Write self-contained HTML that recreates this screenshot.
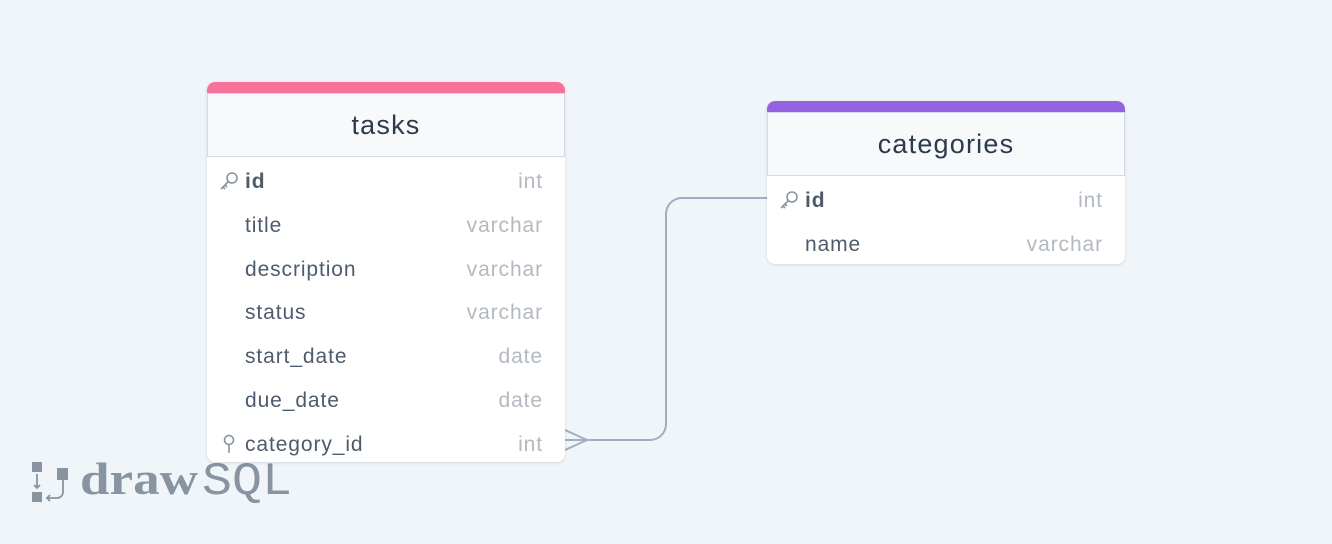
<!DOCTYPE html>
<html><head><style>
body{margin:0;width:1332px;height:544px;background:#f0f5f9;position:relative;overflow:hidden;font-family:"Liberation Sans",sans-serif;}
.logo{position:absolute;left:30px;top:456px;height:50px;}
.tbl{position:absolute;width:358px;background:#fff;border-radius:8px;box-shadow:0 1px 3px rgba(0,0,0,.12);}
.bar{height:11px;border-radius:8px 8px 0 0;}
.hd{height:62px;background:#f7f9fb;border:1px solid #d3dce6;display:flex;align-items:center;justify-content:center;font-size:27px;letter-spacing:1.2px;color:#2d3a4b;}
.row{height:43.8px;position:relative;font-size:21px;letter-spacing:0.9px;color:#4e5b6b;}
.row .n{position:absolute;left:38px;top:13px;}
.row .t{position:absolute;right:22px;top:13px;color:#b3b9c0;}
.row svg{position:absolute;left:12px;top:14px;}
b{color:#4e5b6b}
</style></head><body>
<svg class="logo" width="270" height="50">
<rect x="2" y="6" width="10" height="10" fill="#8894a0"/>
<rect x="2" y="36" width="10" height="10" fill="#8894a0"/>
<rect x="27" y="12" width="11" height="12" fill="#8894a0"/>
<path d="M7 18v14M4 29l3 3 3-3M33 24v12a6 6 0 0 1-6 6h-10M20 39l-3 3 3 3" stroke="#8894a0" stroke-width="1.8" fill="none"/>
<text x="50" y="38" font-family="Liberation Serif,serif" font-weight="bold" font-size="46" fill="#8894a0" textLength="118" lengthAdjust="spacingAndGlyphs">draw</text>
<text x="172" y="38" font-family="Liberation Mono,monospace" font-size="46" fill="#8894a0" textLength="90" lengthAdjust="spacingAndGlyphs">SQL</text>
</svg>
<svg style="position:absolute;left:0;top:0" width="1332" height="544">
<path d="M565 440H650a16 16 0 0 0 16-16V214a16 16 0 0 1 16-16H767M565 430L587 440L565 450" stroke="#a0aec0" stroke-width="2" fill="none"/>
</svg>
<div class="tbl" style="left:207px;top:82px;height:380px">
<div class="bar" style="background:#f7729a"></div>
<div class="hd">tasks</div>
<div class="row"><svg width="20" height="20" viewBox="0 0 20 20"><circle cx="13" cy="7" r="5" stroke="#8894a0" stroke-width="1.6" fill="none"/><path d="M9 11L2 18M4 16l2 2M6 14l2 2" stroke="#8894a0" stroke-width="1.6"/></svg><span class="n"><b>id</b></span><span class="t">int</span></div>
<div class="row"><span class="n">title</span><span class="t">varchar</span></div>
<div class="row"><span class="n">description</span><span class="t">varchar</span></div>
<div class="row"><span class="n">status</span><span class="t">varchar</span></div>
<div class="row"><span class="n">start_date</span><span class="t">date</span></div>
<div class="row"><span class="n">due_date</span><span class="t">date</span></div>
<div class="row"><svg width="20" height="20" viewBox="0 0 20 20"><circle cx="10" cy="6" r="4.5" stroke="#8894a0" stroke-width="1.6" fill="none"/><path d="M10 10.5V19" stroke="#8894a0" stroke-width="1.6"/></svg><span class="n">category_id</span><span class="t">int</span></div>
</div>
<div class="tbl" style="left:767px;top:101px;height:163px">
<div class="bar" style="background:#9562e0"></div>
<div class="hd">categories</div>
<div class="row"><svg width="20" height="20" viewBox="0 0 20 20"><circle cx="13" cy="7" r="5" stroke="#8894a0" stroke-width="1.6" fill="none"/><path d="M9 11L2 18M4 16l2 2M6 14l2 2" stroke="#8894a0" stroke-width="1.6"/></svg><span class="n"><b>id</b></span><span class="t">int</span></div>
<div class="row"><span class="n">name</span><span class="t">varchar</span></div>
</div>
</body></html>
